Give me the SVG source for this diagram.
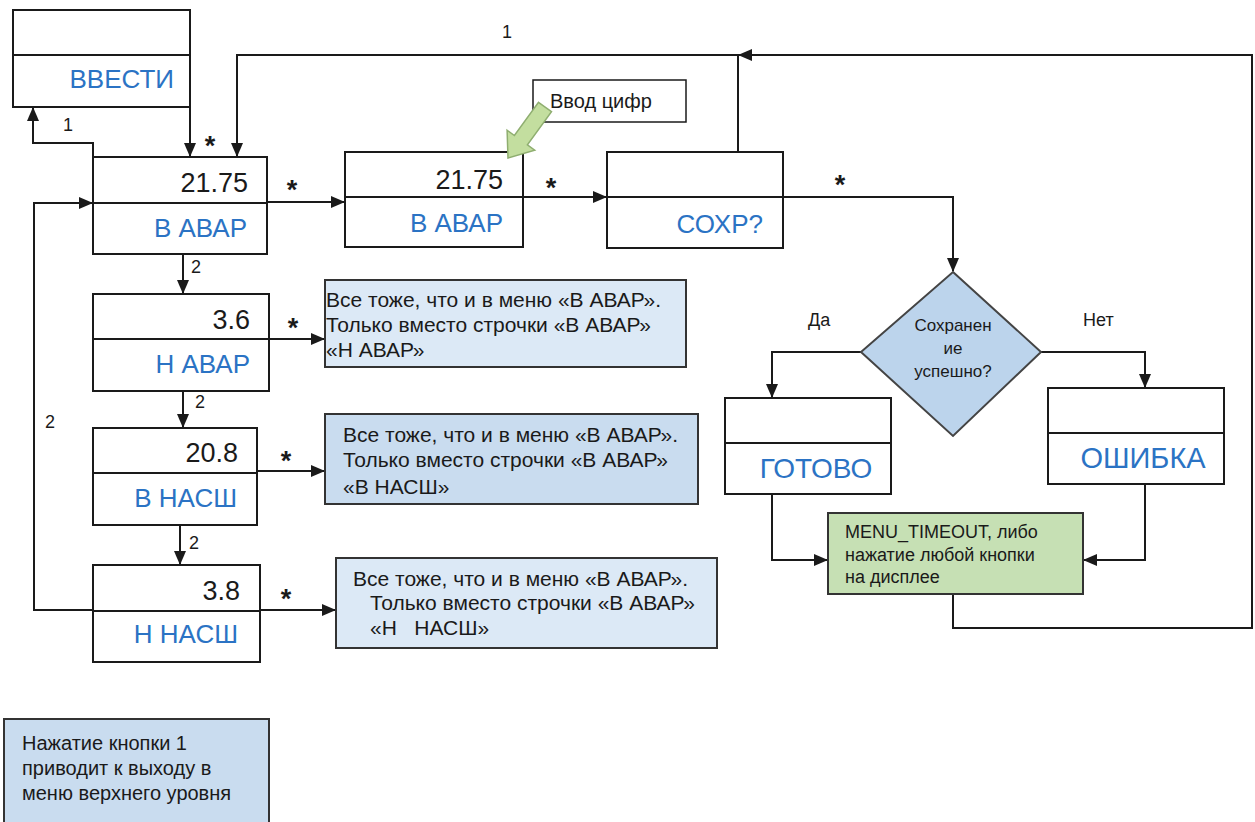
<svg xmlns="http://www.w3.org/2000/svg" width="1255" height="822" viewBox="0 0 1255 822">
<style>
.box{fill:#ffffff;stroke:#1a1a1a;stroke-width:2}
.div{stroke:#1a1a1a;stroke-width:2}
.con{fill:none;stroke:#1a1a1a;stroke-width:2}
.lbl{font-family:"Liberation Sans",Arial,sans-serif;font-size:26px;fill:#2b73c4;text-anchor:end}
.num{font-family:"Liberation Sans",Arial,sans-serif;font-size:27px;fill:#1a1a1a;text-anchor:end}
.t{font-family:"Liberation Sans",Arial,sans-serif;font-size:17px;fill:#1a1a1a}
.s{font-family:"Liberation Sans",Arial,sans-serif;font-size:18px;fill:#1a1a1a}
.info{font-family:"Liberation Sans",Arial,sans-serif;font-size:21px;fill:#1a1a1a}
.ast{font-family:"Liberation Sans",Arial,sans-serif;font-size:27px;font-weight:bold;fill:#1a1a1a;text-anchor:middle}
.lb{fill:#dce9f6;stroke:#333;stroke-width:2}
.mb{fill:#c9dcef;stroke:#333;stroke-width:2}
</style>
<defs>
<marker id="ah" markerWidth="14" markerHeight="12" refX="13" refY="6" orient="auto" markerUnits="userSpaceOnUse">
<path d="M0,0 L14,6 L0,12 z" fill="#1a1a1a"/>
</marker>
</defs>

<g id="connectors">
<path class="con" d="M190,107 V156" marker-end="url(#ah)"/>
<path class="con" d="M738,152 V55 H237 V156" marker-end="url(#ah)"/>
<path class="con" d="M953,594 V628 H1252 V55 H739" marker-end="url(#ah)"/>
<path class="con" d="M93,173 V143 H33 V108" marker-end="url(#ah)"/>
<path class="con" d="M93,610 H34 V203 H92" marker-end="url(#ah)"/>
<path class="con" d="M267,202 H344" marker-end="url(#ah)"/>
<path class="con" d="M523,197 H606" marker-end="url(#ah)"/>
<path class="con" d="M783,197 H953 V271" marker-end="url(#ah)"/>
<path class="con" d="M183,254 V293" marker-end="url(#ah)"/>
<path class="con" d="M183,391 V427" marker-end="url(#ah)"/>
<path class="con" d="M180,525 V564" marker-end="url(#ah)"/>
<path class="con" d="M269,339 H324" marker-end="url(#ah)"/>
<path class="con" d="M257,471 H324" marker-end="url(#ah)"/>
<path class="con" d="M260,610 H335" marker-end="url(#ah)"/>
<path class="con" d="M861,352 H772 V397" marker-end="url(#ah)"/>
<path class="con" d="M1041,352 H1145 V387" marker-end="url(#ah)"/>
<path class="con" d="M772,494 V560 H827" marker-end="url(#ah)"/>
<path class="con" d="M1145,484 V560 H1084" marker-end="url(#ah)"/>
<text class="s" x="502" y="38">1</text>
<text class="s" x="63" y="131">1</text>
<text class="s" x="191" y="273">2</text>
<text class="s" x="195" y="408">2</text>
<text class="s" x="189" y="549">2</text>
<text class="s" x="45" y="428">2</text>
<text class="s" x="808" y="326">Да</text>
<text class="s" x="1083" y="326">Нет</text>
<text class="ast" x="210" y="155">*</text>
<text class="ast" x="292" y="199">*</text>
<text class="ast" x="551" y="197">*</text>
<text class="ast" x="840" y="194">*</text>
<text class="ast" x="293" y="337">*</text>
<text class="ast" x="286" y="470">*</text>
<text class="ast" x="286" y="608">*</text>
</g>

<g id="vvesti">
<rect class="box" x="13" y="10" width="177" height="97"/>
<line class="div" x1="13" y1="55" x2="190" y2="55"/>
<text class="lbl" x="174" y="88">ВВЕСТИ</text>
</g>

<g id="vavar1">
<rect class="box" x="93" y="157" width="174" height="97"/>
<line class="div" x1="93" y1="203" x2="267" y2="203"/>
<text class="num" x="248" y="192">21.75</text>
<text class="lbl" x="247" y="237">В АВАР</text>
</g>

<g id="vavar2">
<rect class="box" x="345" y="152" width="178" height="95"/>
<line class="div" x1="345" y1="197" x2="523" y2="197"/>
<text class="num" x="503" y="189">21.75</text>
<text class="lbl" x="503" y="232">В АВАР</text>
</g>

<g id="vvod">
<rect x="533" y="80" width="153" height="42" fill="#ffffff" stroke="#1a1a1a" stroke-width="1.5"/>
<text class="t" x="550" y="108" style="font-size:20px">Ввод цифр</text>
<polygon points="538.5,102.3 551.5,111.7 527.4,144.9 534.7,150.2 508,158 507.1,130.2 514.4,135.5" fill="#c3de9f" stroke="#8fae70" stroke-width="1.5"/>
</g>

<g id="sohr">
<rect class="box" x="607" y="152" width="176" height="96"/>
<line class="div" x1="607" y1="197" x2="783" y2="197"/>
<text class="lbl" x="763" y="233">СОХР?</text>
</g>

<g id="decision">
<polygon points="953,272 1041,352 953,436 861,352" fill="#bcd4ec" stroke="#444" stroke-width="2"/>
<text class="t" x="953" y="331" text-anchor="middle">Сохранен</text>
<text class="t" x="953" y="354" text-anchor="middle">ие</text>
<text class="t" x="953" y="377" text-anchor="middle">успешно?</text>
</g>

<g id="gotovo">
<rect class="box" x="725" y="398" width="166" height="96"/>
<line class="div" x1="725" y1="443" x2="891" y2="443"/>
<text class="lbl" x="816" y="478" style="text-anchor:middle;font-size:28px">ГОТОВО</text>
</g>

<g id="oshibka">
<rect class="box" x="1048" y="388" width="176" height="96"/>
<line class="div" x1="1048" y1="433" x2="1224" y2="433"/>
<text class="lbl" x="1143" y="468" style="text-anchor:middle;font-size:29px">ОШИБКА</text>
</g>

<g id="timeout">
<rect x="828" y="513" width="255" height="81" fill="#c6e0b4" stroke="#333" stroke-width="2"/>
<text class="t" x="845" y="538" style="font-size:18px">MENU_TIMEOUT, либо</text>
<text class="t" x="845" y="561" style="font-size:18px">нажатие любой кнопки</text>
<text class="t" x="845" y="583" style="font-size:18px">на дисплее</text>
</g>

<g id="navar">
<rect class="box" x="93" y="294" width="176" height="97"/>
<line class="div" x1="93" y1="339" x2="269" y2="339"/>
<text class="num" x="250" y="329">3.6</text>
<text class="lbl" x="250" y="373">Н АВАР</text>
</g>

<g id="vnassh">
<rect class="box" x="93" y="428" width="164" height="97"/>
<line class="div" x1="93" y1="473" x2="257" y2="473"/>
<text class="num" x="238" y="462">20.8</text>
<text class="lbl" x="237" y="507">В НАСШ</text>
</g>

<g id="nnassh">
<rect class="box" x="93" y="565" width="167" height="97"/>
<line class="div" x1="93" y1="611" x2="260" y2="611"/>
<text class="num" x="240" y="600">3.8</text>
<text class="lbl" x="238" y="643">Н НАСШ</text>
</g>

<g id="info1">
<rect class="lb" x="325" y="280" width="361" height="87"/>
<text class="info" x="326" y="307">Все тоже, что и в меню «В АВАР».</text>
<text class="info" x="326" y="332">Только вместо строчки «В АВАР»</text>
<text class="info" x="326" y="357">«Н АВАР»</text>
</g>

<g id="info2">
<rect class="mb" x="325" y="414" width="373" height="90"/>
<text class="info" x="343" y="442">Все тоже, что и в меню «В АВАР».</text>
<text class="info" x="343" y="467">Только вместо строчки «В АВАР»</text>
<text class="info" x="343" y="494">«В НАСШ»</text>
</g>

<g id="info3">
<rect class="lb" x="336" y="558" width="381" height="90"/>
<text class="info" x="353" y="586">Все тоже, что и в меню «В АВАР».</text>
<text class="info" x="370" y="610">Только вместо строчки «В АВАР»</text>
<text class="info" x="370" y="635" xml:space="preserve">«Н   НАСШ»</text>
</g>

<g id="note">
<rect x="4" y="719" width="265" height="110" fill="#c9dcef" stroke="#333" stroke-width="2"/>
<text class="info" x="22" y="750" style="font-size:20px">Нажатие кнопки 1</text>
<text class="info" x="22" y="775" style="font-size:20px">приводит к выходу в</text>
<text class="info" x="22" y="800" style="font-size:20px">меню верхнего уровня</text>
</g>
</svg>
